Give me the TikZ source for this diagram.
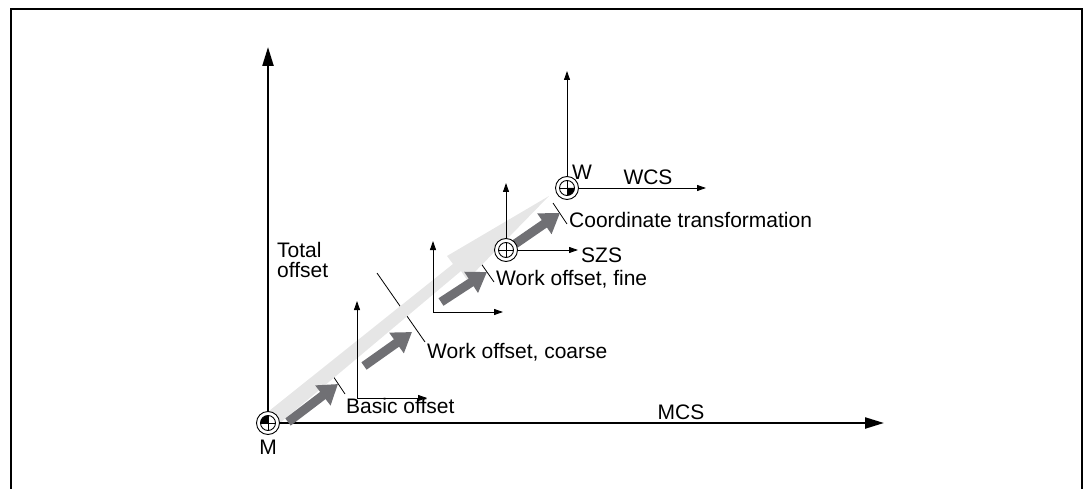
\documentclass[tikz,border=0pt]{standalone}
\usepackage{fontspec}
\setmainfont{Liberation Sans}
\usetikzlibrary{arrows.meta}
\definecolor{darkarrow}{RGB}{112,112,116}
\definecolor{bandgray}{RGB}{230,230,230}
\tikzset{
  mainaxis/.style={line width=2.2pt, -{Triangle[length=19pt,width=11pt]}},
  smallaxis/.style={line width=0.9pt, -{Triangle[length=9pt,width=6pt]}},
  offsetarrow/.style={darkarrow, line width=9pt, -{Triangle[length=19pt,width=24pt]}},
  leader/.style={line width=0.8pt},
  lbl/.style={font=\fontsize{21}{17}\selectfont, inner sep=0pt, anchor=base west},
  lblc/.style={font=\fontsize{21}{17}\selectfont, inner sep=0pt, anchor=base},
  originring/.pic={
    \draw[line width=0.9pt, fill=white] (0,0) circle (11.5pt);
    \draw[line width=0.9pt] (0,0) circle (7.5pt);
    \draw[line width=0.9pt] (-7.5pt,0) -- (7.5pt,0) (0,-7.5pt) -- (0,7.5pt);
  },
}
\begin{document}
\begin{tikzpicture}[x=1pt,y=-1pt]
\useasboundingbox (0,0) rectangle (1084,489);
% frame
\draw[line width=1.8pt] (11,489) -- (11,9) -- (1082,9) -- (1082,489);

% named points
\coordinate (M) at (268,423);
\coordinate (Mtop) at (268,47);
\coordinate (Mright) at (884,423);
\coordinate (C1) at (357,398);
\coordinate (C1top) at (357,301);
\coordinate (C1right) at (427,398);
\coordinate (F1) at (433,312);
\coordinate (F1top) at (433,241);
\coordinate (F1right) at (503,312);
\coordinate (S) at (506,250);
\coordinate (Stop) at (506,183);
\coordinate (Sright) at (578,250);
\coordinate (W) at (567,188);
\coordinate (Wtop) at (567,71);
\coordinate (Wright) at (706,188);

% leader lines (drawn below the band)
\coordinate (LBa) at (331,373); \coordinate (LBb) at (345,394);
\coordinate (LCa) at (377,273); \coordinate (LCb) at (425,342);
\coordinate (LFa) at (480,262); \coordinate (LFb) at (494,282);
\coordinate (LTa) at (553,203); \coordinate (LTb) at (567,224);
\draw[leader] (LBa) -- (LBb);
\draw[leader] (LCa) -- (LCb);
\draw[leader] (LFa) -- (LFb);
\draw[leader] (LTa) -- (LTb);

% total offset band
\fill[bandgray] (269,411) -- (280,423) -- (461,271) -- (467,280) -- (549,196) -- (447,256) -- (453,264) -- cycle;

% axes
\draw[mainaxis] (M) -- (Mtop);
\draw[mainaxis] (M) -- (Mright);
\draw[smallaxis] (C1) -- (C1top);
\draw[smallaxis] (C1) -- (C1right);
\draw[smallaxis] (F1) -- (F1top);
\draw[smallaxis] (F1) -- (F1right);
\draw[smallaxis] (S) -- (Stop);
\draw[smallaxis] (S) -- (Sright);
\draw[smallaxis] (W) -- (Wtop);
\draw[smallaxis] (W) -- (Wright);

% offset arrows
\coordinate (A1s) at (288,422); \coordinate (A1e) at (338,384);
\coordinate (A2s) at (364,366); \coordinate (A2e) at (412,332);
\coordinate (A3s) at (441,302); \coordinate (A3e) at (487,272);
\coordinate (A4s) at (515,244); \coordinate (A4e) at (560,213);
\draw[offsetarrow] (A1s) -- (A1e);
\draw[offsetarrow] (A2s) -- (A2e);
\draw[offsetarrow] (A3s) -- (A3e);
\draw[offsetarrow] (A4s) -- (A4e);

% origin symbols
\pic at (M) {originring};
\fill (M) -- ++(-7.5pt,0) arc[start angle=180, end angle=90, radius=7.5pt] -- cycle;
\draw[line width=0.9pt] (M) ++(-7.5pt,0) -- ++(15pt,0) (M) ++(0,-7.5pt) -- ++(0,15pt);
\pic at (S) {originring};
\pic at (W) {originring};
\fill (W) -- ++(7.5pt,0) arc[start angle=0, end angle=-90, radius=7.5pt] -- cycle;

% labels
\node[lblc] (tM) at (268,454) {M};
\node[lblc] (tMCS) at (681,419) {MCS};
\node[lbl] (tTotal) at (277,257) {Total};
\node[lbl] (tOffset) at (277,277) {offset};
\node[lbl] (tBasic) at (346,413) {Basic offset};
\node[lbl] (tCoarse) at (427,358) {Work offset, coarse};
\node[lbl] (tFine) at (496,285) {Work offset, fine};
\node[lbl] (tSZS) at (581,262) {SZS};
\node[lblc] (tW) at (582,180) {W};
\node[lblc] (tWCS) at (648,185) {WCS};
\node[lbl] (tCT) at (569,228) {Coordinate transformation};
\end{tikzpicture}
\end{document}
